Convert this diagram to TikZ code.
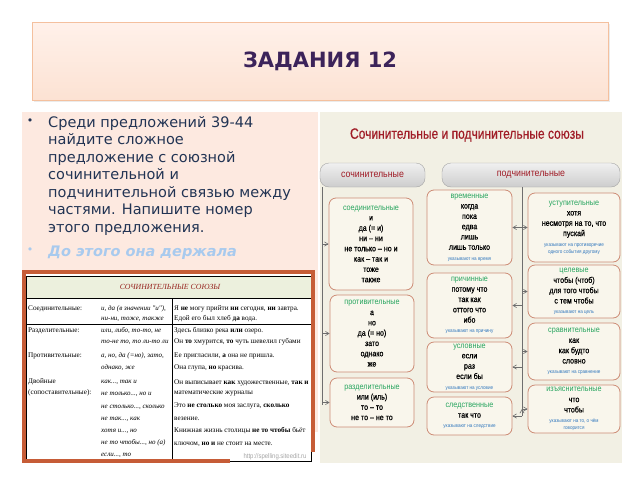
\documentclass[tikz,border=0pt]{standalone}
\usepackage{fontspec}
\setmainfont{DejaVu Sans}
\newfontfamily\chartfont[FakeStretch=0.86,FakeBold=0.7]{Liberation Sans}
\newfontfamily\kindfont[FakeStretch=0.88]{Liberation Sans}
\newfontfamily\headfont[FakeStretch=0.8,FakeBold=0.6]{Liberation Sans}
\newfontfamily\tablefont{Liberation Serif}
\usepackage{tikz}
\usetikzlibrary{positioning,arrows}

\definecolor{titleviolet}{RGB}{60,35,90}
\definecolor{titletop}{RGB}{255,241,234}
\definecolor{titlebottom}{RGB}{252,226,211}
\definecolor{titleline}{RGB}{244,192,158}
\definecolor{panelpink}{RGB}{253,233,224}
\definecolor{tasktext}{RGB}{34,52,84}
\definecolor{hintblue}{RGB}{168,202,238}
\definecolor{tableorange}{RGB}{198,92,55}
\definecolor{tablehead}{RGB}{236,240,221}
\definecolor{tablered}{RGB}{150,35,30}
\definecolor{chartbg}{RGB}{242,240,228}
\definecolor{kindline}{RGB}{205,140,118}
\definecolor{kindfill}{RGB}{249,246,236}
\definecolor{groupline}{RGB}{165,165,165}
\definecolor{grouptop}{RGB}{240,240,240}
\definecolor{groupbottom}{RGB}{205,205,205}
\definecolor{headred}{RGB}{160,28,38}
\definecolor{kindgreen}{RGB}{40,165,95}
\definecolor{noteblue}{RGB}{50,120,190}
\definecolor{busgray}{RGB}{110,110,110}
\definecolor{markgray}{RGB}{165,165,165}

\newcommand{\kindname}[1]{{\kindfont\color{kindgreen}#1}}
\newcommand{\usenote}[1]{{\kindfont\color{noteblue}\fontsize{5.2}{6}\selectfont #1}}

\begin{document}
\begin{tikzpicture}[x=1pt,y=-1pt,
	kind/.style={draw=kindline,fill=kindfill,rounded corners=7pt,line width=0.8pt,
		align=center,inner sep=0pt,font=\chartfont\fontsize{8.2}{10.3}\selectfont},
	group/.style={draw=groupline,top color=grouptop,bottom color=groupbottom,
		rounded corners=9pt,inner sep=0pt,minimum height=24pt,text=headred,
		font=\kindfont\fontsize{10}{11}\selectfont},
	bus/.style={draw=busgray,line width=0.6pt},
	cell/.style={anchor=base west,inner sep=0pt,font=\tablefont\fontsize{7.2}{8}\selectfont},
	conj/.style={cell,font=\tablefont\itshape\fontsize{7}{8}\selectfont}]
	\useasboundingbox (0,0) rectangle (640,480);
	\fill[white] (0,0) rectangle (640,480);
	% title
	\fill[black!8] (34,24) rectangle (610,102);
	\node[draw=titleline,top color=titletop,bottom color=titlebottom,
		minimum width=576pt,minimum height=78pt,inner sep=0pt,
		text=titleviolet,font=\bfseries\fontsize{21}{24}\selectfont] (title) at (320,61) {ЗАДАНИЯ 12};
	% left panel
	\node[fill=panelpink,minimum width=296pt,minimum height=320pt,inner sep=0pt,
		anchor=north west] (panel) at (22,112) {};
	\node[anchor=north west,align=left,inner sep=0pt,text=tasktext,
		font=\fontsize{14.5}{17.5}\selectfont] (task) at (48,116) {Среди предложений 39-44\\
		найдите сложное\\
		предложение с союзной\\
		сочинительной и\\
		подчинительной связью между\\
		частями. Напишите номер\\
		этого предложения.};
	\node[text=tasktext,inner sep=0pt,font=\fontsize{11}{12}\selectfont] (bulA) at (30,122) {•};
	\node[anchor=base west,inner sep=0pt,text=hintblue,
		font=\bfseries\itshape\fontsize{14.5}{17.5}\selectfont] (hint) at (48,256) {До этого она держала};
	\node[text=hintblue,inner sep=0pt,font=\fontsize{11}{12}\selectfont] (bulB) at (30,251) {•};
	% table
	\fill[white] (24,272) rectangle (313,461);
	\fill[tablehead] (26,276) rectangle (311,298);
	\draw[line width=0.6pt] (26,276) rectangle (311,461);
	\draw[line width=0.6pt] (26,298) -- (311,298) (26,324) -- (311,324) (172.5,298) -- (172.5,461);
	\draw[tableorange,line width=3.5pt] (230,461) -- (24,461) -- (24,272) -- (313,272) -- (313,452);
	\node[inner sep=0pt,text=tablered,font=\tablefont\itshape\fontsize{7.8}{9}\selectfont] (thead) at (170,287) {СОЧИНИТЕЛЬНЫЕ СОЮЗЫ};
	% table, first column
	\node[cell] (ka) at (28,310) {Соединительные:};
	\node[cell] (kb) at (28,332) {Разделительные:};
	\node[cell] (kc) at (28,357) {Противительные:};
	\node[cell] (kd) at (28,383) {Двойные};
	\node[cell] (ke) at (28,394) {(сопоставительные):};
	% table, second column
	\node[conj] (ca) at (101,310) {и, да (в значении "и"),};
	\node[conj] (cb) at (101,320) {ни-ни, тоже, также};
	\node[conj] (cc) at (101,332) {или, либо, то-то, не};
	\node[conj] (cd) at (101,343) {то-не то, то ли-то ли};
	\node[conj] (ce) at (101,357) {а, но, да (=но), зато,};
	\node[conj] (cf) at (101,369) {однако, же};
	\node[conj] (cg) at (101,383) {как..., так и};
	\node[conj] (ch) at (101,395) {не только..., но и};
	\node[conj] (ci) at (101,408) {не столько..., сколько};
	\node[conj] (cj) at (101,420) {не так..., как};
	\node[conj] (ck) at (101,432) {хотя и..., но};
	\node[conj] (cl) at (101,444) {не то чтобы..., но (а)};
	\node[conj] (cm) at (101,456) {если..., то};
	% table, third column
	\node[cell] (ea) at (174,310) {Я \textbf{не} могу прийти \textbf{ни} сегодня, \textbf{ни} завтра.};
	\node[cell] (eb) at (174,320) {Едой его был хлеб \textbf{да} вода.};
	\node[cell] (ec) at (174,332) {Здесь близко река \textbf{или} озеро.};
	\node[cell] (ed) at (174,343) {Он \textbf{то} хмурится, \textbf{то} чуть шевелил губами};
	\node[cell] (ee) at (174,357) {Ее пригласили, \textbf{а} она не пришла.};
	\node[cell] (ef) at (174,369) {Она глупа, \textbf{но} красива.};
	\node[cell] (eg) at (174,384) {Он выписывает \textbf{как} художественные, \textbf{так и}};
	\node[cell] (eh) at (174,394) {математические журналы};
	\node[cell] (ei) at (174,407) {Это \textbf{не столько} моя заслуга, \textbf{сколько}};
	\node[cell] (ej) at (174,420) {везение.};
	\node[cell] (ek) at (174,432) {Книжная жизнь столицы \textbf{не то чтобы} бьёт};
	\node[cell] (el) at (174,445) {ключом, \textbf{но и} не стоит на месте.};
	\node[inner sep=0pt,text=markgray,font=\kindfont\fontsize{6.8}{8}\selectfont] (mark) at (275,457) {http://spelling.siteedit.ru};
	% chart
	\node[fill=chartbg,minimum width=302pt,minimum height=351pt,inner sep=0pt,
		anchor=north west] (chart) at (320,112) {};
	\node[inner sep=0pt,text=headred,font=\headfont\fontsize{15}{17}\selectfont] (head) at (467,135) {Сочинительные и подчинительные союзы};
	\node[group,minimum width=105pt] (coord) at (372.5,175) {сочинительные};
	\node[group,minimum width=178pt] (subord) at (531,175) {подчинительные};
	% left column
	\node[kind,minimum width=84pt,minimum height=92pt] (soed) at (371,244)
		{\kindname{соединительные}\\и\\да (= и)\\ни – ни\\не только – но и\\как – так и\\тоже\\также};
	\node[kind,minimum width=84pt,minimum height=77pt] (protiv) at (372,333.5)
		{\kindname{противительные}\\а\\но\\да (= но)\\зато\\однако\\же};
	\node[kind,minimum width=84pt,minimum height=49pt] (razdel) at (372,402.5)
		{\kindname{разделительные}\\или (иль)\\то – то\\не то – не то};
	% middle column
	\node[kind,minimum width=85pt,minimum height=75pt] (vrem) at (469.5,227.5)
		{\kindname{временные}\\когда\\пока\\едва\\лишь\\лишь только\\\usenote{указывают на время}};
	\node[kind,minimum width=85pt,minimum height=65pt] (prich) at (469.5,305.5)
		{\kindname{причинные}\\потому что\\так как\\оттого что\\ибо\\\usenote{указывают на причину}};
	\node[kind,minimum width=85pt,minimum height=50pt] (uslov) at (469.5,367)
		{\kindname{условные}\\если\\раз\\если бы\\\usenote{указывают на условие}};
	\node[kind,minimum width=85pt,minimum height=38pt] (sledstv) at (469.5,416)
		{\kindname{следственные}\\так что\\\usenote{указывают на следствие}};
	% right column
	\node[kind,minimum width=92pt,minimum height=69pt] (ustup) at (574,227.5)
		{\kindname{уступительные}\\хотя\\несмотря на то, что\\пускай\\\usenote{указывают на противоречие}\\[-3.5pt]\usenote{одного события другому}};
	\node[kind,minimum width=92pt,minimum height=53pt] (tsel) at (574,291.5)
		{\kindname{целевые}\\чтобы (чтоб)\\для того чтобы\\с тем чтобы\\\usenote{указывают на цель}};
	\node[kind,minimum width=92pt,minimum height=57pt] (sravn) at (574,351.5)
		{\kindname{сравнительные}\\как\\как будто\\словно\\\usenote{указывают на сравнение}};
	\node[kind,minimum width=92pt,minimum height=48pt] (izyasn) at (574,409)
		{\kindname{изъяснительные}\\что\\чтобы\\\usenote{указывают на то, о чём}\\[-3.5pt]\usenote{говорится}};
	% buses
	\coordinate (ctop) at (322,187);
	\coordinate (cbot) at (322,405);
	\coordinate (stop) at (522,187);
	\coordinate (sbot) at (522,416);
	\draw[bus] (ctop) -- (cbot);
	\draw[bus] (stop) -- (sbot);
	%
	\path[bus,->,>=angle 60]
	% to the coordinating kinds
	(soed.west -| ctop) edge (soed.west)
	(protiv.west -| ctop) edge (protiv.west)
	(razdel.west -| ctop) edge (razdel.west)
	% to the middle column
	(vrem.east -| stop) edge (vrem.east)
	(prich.east -| stop) edge (prich.east)
	(uslov.east -| stop) edge (uslov.east)
	(sledstv.east -| stop) edge (sledstv.east)
	% to the right column
	(ustup.west -| stop) edge (ustup.west)
	(tsel.west -| stop) edge (tsel.west)
	(sravn.west -| stop) edge (sravn.west)
	(izyasn.west -| stop) edge (izyasn.west);
\end{tikzpicture}
\end{document}
